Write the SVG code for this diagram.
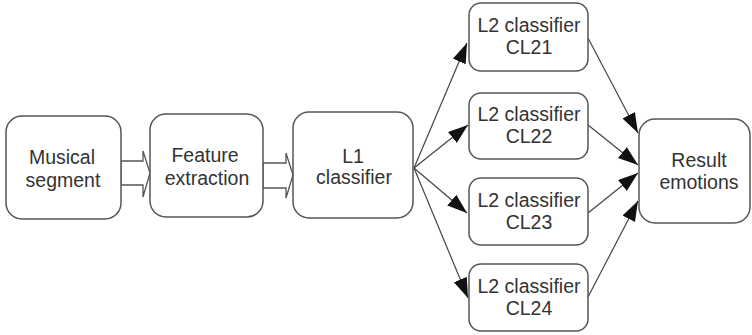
<svg xmlns="http://www.w3.org/2000/svg" width="752" height="335" viewBox="0 0 752 335">
<defs>
<style>
.box{fill:#fff;stroke:#555;stroke-width:1.5}
.t{font-family:"Liberation Sans",Arial,sans-serif;font-size:19.5px;fill:#333;text-anchor:middle}
.c{stroke:#444;stroke-width:1.2;fill:none}
.block{fill:#fff;stroke:#555;stroke-width:1.3}
</style>
<marker id="ah" markerUnits="userSpaceOnUse" markerWidth="22" markerHeight="16" refX="20" refY="7" orient="auto">
<path d="M0,0 L20,7 L0,14 z" fill="#111"/>
</marker>
</defs>
<g id="connectors">
<polygon class="block" points="121,161 143,161 143,151 150,173 143,197 143,185 121,185"/>
<polygon class="block" points="263,163 286,163 286,153 293,175 286,198 286,188 263,188"/>
<line class="c" x1="414" y1="168" x2="467" y2="43" marker-end="url(#ah)"/>
<line class="c" x1="414" y1="168" x2="468" y2="125" marker-end="url(#ah)"/>
<line class="c" x1="414" y1="168" x2="467" y2="213" marker-end="url(#ah)"/>
<line class="c" x1="414" y1="168" x2="468" y2="298" marker-end="url(#ah)"/>
<line class="c" x1="588" y1="38" x2="638" y2="133" marker-end="url(#ah)"/>
<line class="c" x1="588" y1="125" x2="638" y2="165" marker-end="url(#ah)"/>
<line class="c" x1="588" y1="213" x2="638" y2="173" marker-end="url(#ah)"/>
<line class="c" x1="588" y1="297" x2="638" y2="201" marker-end="url(#ah)"/>
</g>
<g id="musical">
<rect class="box" x="6" y="116" width="115" height="103" rx="16"/>
<text class="t" x="62" y="164">Musical</text>
<text class="t" x="63" y="187">segment</text>
</g>
<g id="feature">
<rect class="box" x="150" y="114" width="113" height="103" rx="16"/>
<text class="t" x="205" y="162">Feature</text>
<text class="t" x="207" y="185">extraction</text>
</g>
<g id="l1">
<rect class="box" x="293" y="112" width="120" height="106" rx="16"/>
<text class="t" x="353" y="163">L1</text>
<text class="t" x="354" y="184">classifier</text>
</g>
<g id="cl21">
<rect class="box" x="469" y="3" width="119" height="68" rx="12"/>
<text class="t" x="529" y="32">L2 classifier</text>
<text class="t" x="529" y="54">CL21</text>
</g>
<g id="cl22">
<rect class="box" x="469" y="93" width="119" height="66" rx="12"/>
<text class="t" x="529" y="121">L2 classifier</text>
<text class="t" x="529" y="143">CL22</text>
</g>
<g id="cl23">
<rect class="box" x="469" y="178" width="119" height="67" rx="12"/>
<text class="t" x="529" y="207">L2 classifier</text>
<text class="t" x="529" y="229">CL23</text>
</g>
<g id="cl24">
<rect class="box" x="469" y="264" width="119" height="67" rx="12"/>
<text class="t" x="529" y="293">L2 classifier</text>
<text class="t" x="529" y="315">CL24</text>
</g>
<g id="result">
<rect class="box" x="639" y="119" width="111" height="104" rx="16"/>
<text class="t" x="699" y="167">Result</text>
<text class="t" x="699" y="189">emotions</text>
</g>
</svg>
